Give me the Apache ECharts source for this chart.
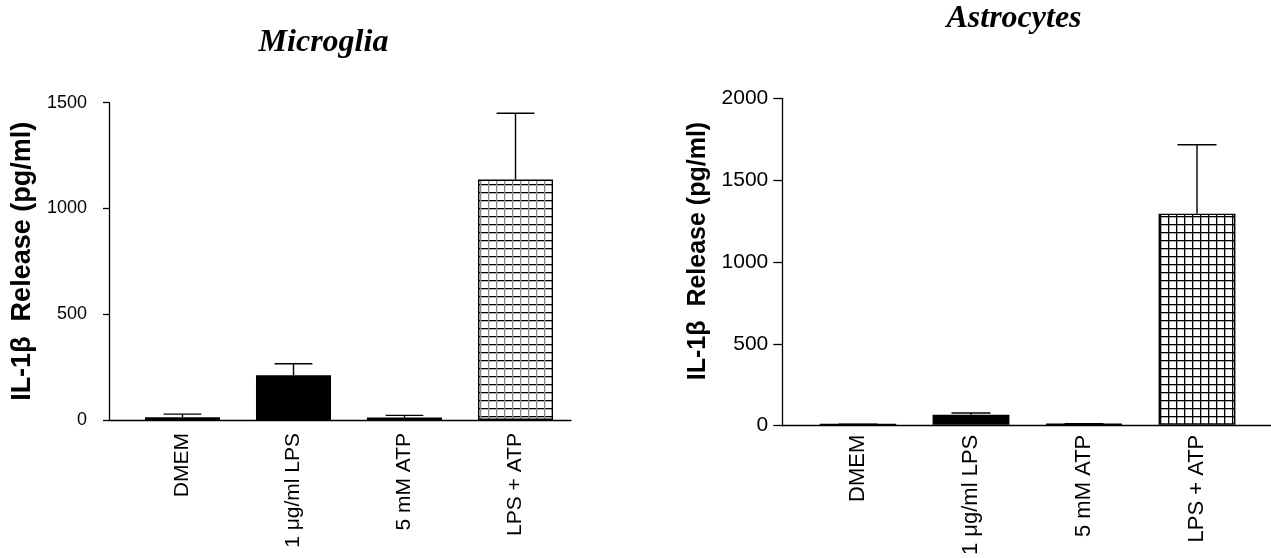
<!DOCTYPE html>
<html>
<head>
<meta charset="utf-8">
<script src="https://cdn.jsdelivr.net/npm/echarts@6/dist/echarts.min.js"></script>
<style>
html,body{margin:0;padding:0;background:#fff;}
#chart{width:1271px;height:558px;}
</style>
</head>
<body>
<div id="chart"></div>
<script>
// ---- data ----
const categories = ['DMEM', '1 \u03bcg/ml LPS', '5 mM ATP', 'LPS + ATP'];
const microgliaMean = [13, 211, 12, 1137];
const microgliaErr = [15, 55, 10, 313];
const astroMean = [2, 61, 5, 1293];
const astroErr = [1, 11, 2, 422];
const microgliaTicks = {min: 0, max: 1500, interval: 500};
const astroTicks = {min: 0, max: 2000, interval: 500};
const panelTitles = ['Microglia', 'Astrocytes'];
const yTitle = 'IL-1\u03b2  Release (pg/ml)';

// ---- patterns ----
function gridPattern(hColor, vColor, size) {
  const c = document.createElement('canvas');
  c.width = size; c.height = size;
  const g = c.getContext('2d');
  g.fillStyle = '#fff'; g.fillRect(0, 0, size, size);
  g.fillStyle = hColor; g.fillRect(0, 0, size, 1.3);
  g.fillStyle = vColor; g.fillRect(0, 0, 1.3, size);
  return {image: c, repeat: 'repeat'};
}
const patLightGrid = gridPattern('#555', '#777', 7);
const patMixGrid = gridPattern('#000', '#8a8a8a', 8);
const patBlackGrid = gridPattern('#000', '#000', 8);

const microFills = [patLightGrid, '#000', '#000', patMixGrid];
const astroFills = ['#000', '#000', '#000', patBlackGrid];

const FONT = 'Liberation Sans, Arial, sans-serif';
const plain = v => String(v);

function barData(vals, fills) {
  return vals.map((v, i) => ({value: v, itemStyle: {color: fills[i], borderColor: '#000', borderWidth: 1.4}}));
}
function errData(vals, errs) {
  return vals.map((v, i) => [i, v, v + errs[i]]);
}
function errRender(capRatio) {
  return function (params, api) {
    const lo = api.coord([api.value(0), api.value(1)]);
    const hi = api.coord([api.value(0), api.value(2)]);
    const half = api.size([1, 0])[0] * capRatio / 2;
    const st = {stroke: '#000', lineWidth: 1.4};
    return {type: 'group', children: [
      {type: 'line', shape: {x1: lo[0], y1: lo[1], x2: hi[0], y2: hi[1]}, style: st},
      {type: 'line', shape: {x1: hi[0] - half, y1: hi[1], x2: hi[0] + half, y2: hi[1]}, style: st}
    ]};
  };
}

const axisLineStyle = {color: '#000', width: 1.3};

const option = {
  animation: false,
  backgroundColor: '#fff',
  graphic: [
    {type: 'text', style: {text: panelTitles[0], x: 323.5, y: 42.7, textAlign: 'center', textVerticalAlign: 'middle',
      font: 'italic bold 32px "Liberation Serif", "Times New Roman", serif', fill: '#000'}},
    {type: 'text', style: {text: panelTitles[1], x: 1014, y: 18.3, textAlign: 'center', textVerticalAlign: 'middle',
      font: 'italic bold 32px "Liberation Serif", "Times New Roman", serif', fill: '#000'}}
  ],
  grid: [
    {left: 109, width: 462, top: 102.7, bottom: 138},
    {left: 127, width: 444, top: 102.7, bottom: 138},
    {left: 782.3, right: 0, top: 98.3, bottom: 132.3},
    {left: 801.5, width: 452, top: 98.3, bottom: 132.3}
  ],
  xAxis: [
    {gridIndex: 0, type: 'value', min: 0, max: 1, axisLine: {show: true, onZero: false, lineStyle: axisLineStyle},
      axisTick: {show: false}, axisLabel: {show: false}, splitLine: {show: false}},
    {gridIndex: 1, type: 'category', data: categories, axisLine: {show: false}, axisTick: {show: false},
      axisLabel: {rotate: 90, margin: 13, fontSize: 21, color: '#000', fontFamily: FONT}},
    {gridIndex: 2, type: 'value', min: 0, max: 1, axisLine: {show: true, onZero: false, lineStyle: axisLineStyle},
      axisTick: {show: false}, axisLabel: {show: false}, splitLine: {show: false}},
    {gridIndex: 3, type: 'category', data: categories, axisLine: {show: false}, axisTick: {show: false},
      axisLabel: {rotate: 90, margin: 10, fontSize: 22, color: '#000', fontFamily: FONT}}
  ],
  yAxis: [
    {gridIndex: 0, type: 'value', min: microgliaTicks.min, max: microgliaTicks.max, interval: microgliaTicks.interval,
      axisLine: {show: true, lineStyle: axisLineStyle}, axisTick: {show: true, length: 6, lineStyle: axisLineStyle},
      axisLabel: {margin: 22, fontSize: 18, color: '#000', fontFamily: FONT, formatter: plain}, splitLine: {show: false},
      name: yTitle, nameLocation: 'middle', nameGap: 73,
      nameTextStyle: {fontSize: 27, fontWeight: 'bold', color: '#000', fontFamily: FONT}},
    {gridIndex: 1, type: 'value', min: microgliaTicks.min, max: microgliaTicks.max, show: false},
    {gridIndex: 2, type: 'value', min: astroTicks.min, max: astroTicks.max, interval: astroTicks.interval,
      axisLine: {show: true, lineStyle: axisLineStyle}, axisTick: {show: true, length: 9, lineStyle: axisLineStyle},
      axisLabel: {margin: 14, fontSize: 21, color: '#000', fontFamily: FONT, formatter: plain}, splitLine: {show: false},
      name: yTitle, nameLocation: 'middle', nameGap: 72,
      nameTextStyle: {fontSize: 25, fontWeight: 'bold', color: '#000', fontFamily: FONT, padding: [0, 0, 0, 22]}},
    {gridIndex: 3, type: 'value', min: astroTicks.min, max: astroTicks.max, show: false}
  ],
  series: [
    {type: 'bar', xAxisIndex: 1, yAxisIndex: 1, barWidth: '67.6%', data: barData(microgliaMean, microFills)},
    {type: 'custom', xAxisIndex: 1, yAxisIndex: 1, z: 5, renderItem: errRender(0.34),
      encode: {x: 0, y: [1, 2]}, data: errData(microgliaMean, microgliaErr)},
    {type: 'bar', xAxisIndex: 3, yAxisIndex: 3, barWidth: '68%', data: barData(astroMean, astroFills)},
    {type: 'custom', xAxisIndex: 3, yAxisIndex: 3, z: 5, renderItem: errRender(0.345),
      encode: {x: 0, y: [1, 2]}, data: errData(astroMean, astroErr)}
  ]
};
const chart = echarts.init(document.getElementById('chart'), null, {renderer: 'canvas'});
chart.setOption(option);
</script>
</body>
</html>
